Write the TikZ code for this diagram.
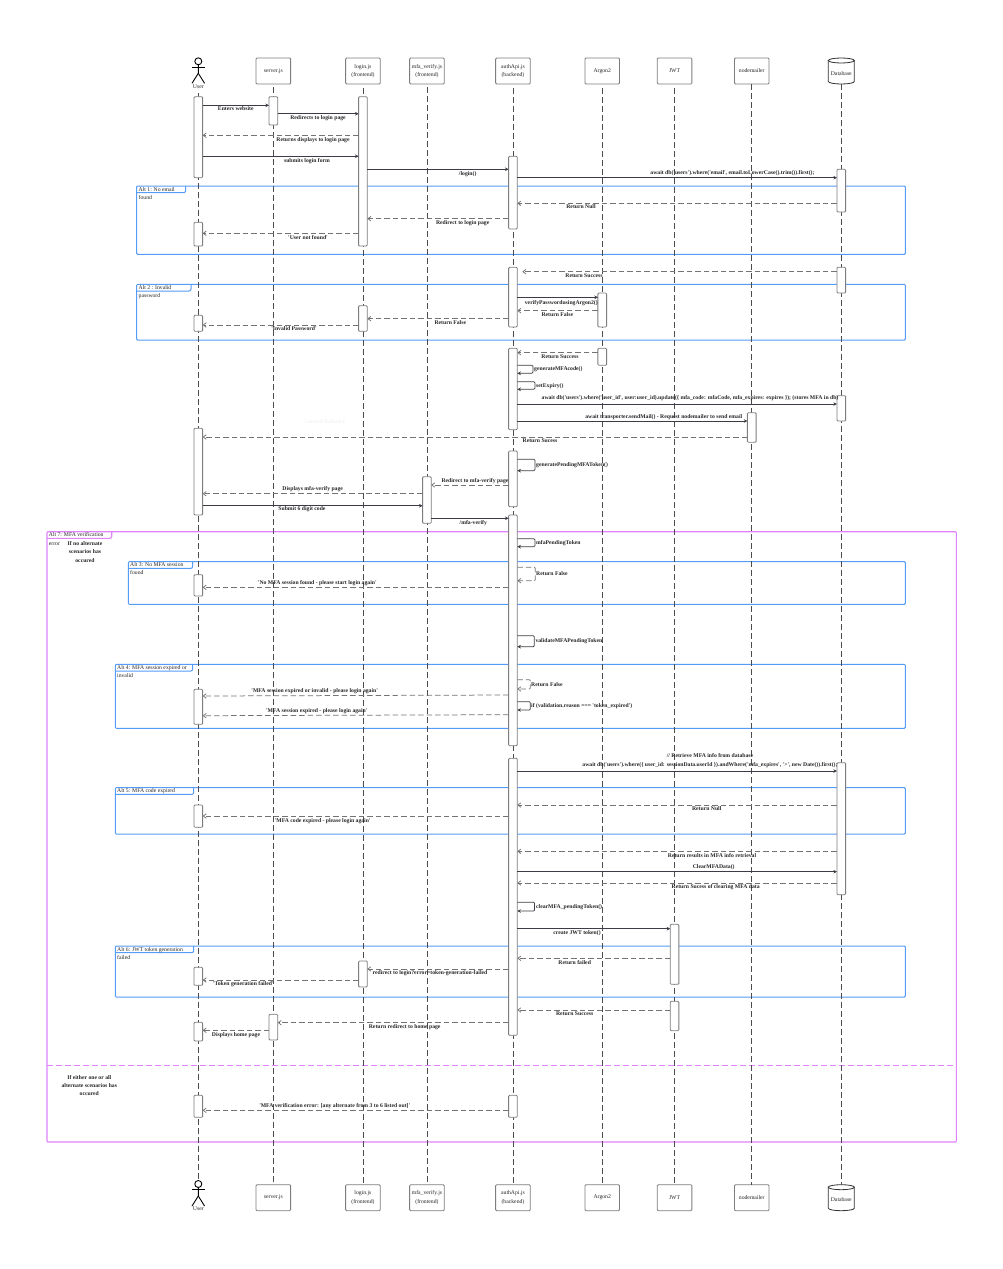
\documentclass[tikz,border=0pt]{standalone}
\usepackage{fontspec}
\setmainfont{Liberation Serif}[Ligatures=TeXOff]
\usepackage{tikz}
\usetikzlibrary{positioning,arrows.meta}

\definecolor{altblue}{RGB}{85,155,248}
\definecolor{altpink}{RGB}{224,130,252}
\definecolor{boxgrey}{RGB}{125,125,125}
\definecolor{msggrey}{RGB}{60,60,68}

\begin{document}
\begin{tikzpicture}[x=1pt,y=-1pt,
  head/.style={rectangle, draw=boxgrey, fill=white, line width=0.85pt, rounded corners=1pt, minimum width=34.6pt, minimum height=26pt, inner sep=0pt, outer sep=0pt, align=center, text=black!85, font=\fontsize{5.7}{8.3}\selectfont},
  dbbase/.style={rectangle, minimum width=26pt, minimum height=26pt, inner sep=0pt, outer sep=0pt},
  dbline/.style={draw=black!80, fill=white, line width=0.8pt},
  manhead/.style={circle, draw=black, line width=0.9pt, minimum size=7pt, inner sep=0pt, outer sep=0pt},
  man/.style={draw=black, line width=0.9pt},
  life/.style={draw=black!70, line width=0.75pt, dash pattern=on 6pt off 3pt},
  bar/.style={rectangle, anchor=north, draw=boxgrey, fill=white, line width=0.85pt, rounded corners=1pt, minimum width=8.7pt, inner sep=0pt, outer sep=0pt},
  call/.style={draw=msggrey, line width=0.75pt, -{Stealth[length=3.6pt,width=3.6pt]}},
  back/.style={draw=black!55, line width=0.75pt, dash pattern=on 5.5pt off 3pt, -{Straight Barb[length=3pt,width=4.5pt]}},
  block/.style={text=black!85, inner sep=0pt, align=center, font=\fontsize{5.7}{8.3}\bfseries\selectfont},
  msg/.style={text=black!85, inner sep=0pt, text height=5.5pt, text depth=1.2pt, font=\fontsize{5.7}{8.3}\bfseries\selectfont},
  selfmsg/.style={msg, anchor=west},
  alttext/.style={anchor=west, inner sep=0pt, text=black!85, text height=5.5pt, text depth=1.2pt, font=\fontsize{5.7}{8.3}\selectfont},
  altline/.style={draw=altblue, line width=1pt},
  altbox/.style={rectangle, anchor=north west, altline, rounded corners=1pt, inner sep=0pt, outer sep=0pt},
  bigline/.style={draw=altpink, line width=1.1pt},
  bigbox/.style={rectangle, anchor=north west, bigline, rounded corners=1pt, inner sep=0pt, outer sep=0pt},
]
\useasboundingbox (0,0) rectangle (1003,1269);

%Frames
\node[altbox, minimum width=768.6pt, minimum height=68.3pt] (alt1) at (136.7,186) {};
\node[altbox, minimum width=768.6pt, minimum height=55.7pt] (alt2) at (136.7,284.3) {};
\node[altbox, minimum width=777pt, minimum height=42.6pt] (alt3) at (128.3,561.7) {};
\node[altbox, minimum width=790pt, minimum height=64pt] (alt4) at (115.3,664.3) {};
\node[altbox, minimum width=790pt, minimum height=46.3pt] (alt5) at (115.3,787.7) {};
\node[altbox, minimum width=790pt, minimum height=51pt] (alt6) at (115.3,946) {};
\node[bigbox, minimum width=909.3pt, minimum height=610.3pt] (alt7) at (47,531.7) {};
\coordinate (splitL) at (47,1065.7);
\coordinate (splitR) at (956.3,1065.7);
\draw[bigline, dash pattern=on 6pt off 3pt] (splitL) -- (splitR);

\draw[altline, rounded corners=2pt] (alt1.north west) ++(49,0) -- ++(0,6.7) -- ++(-49,0);
\draw[altline, rounded corners=2pt] (alt2.north west) ++(54.3,0) -- ++(0,6.7) -- ++(-54.3,0);
\draw[altline, rounded corners=2pt] (alt3.north west) ++(64.4,0) -- ++(0,6.7) -- ++(-64.4,0);
\draw[altline, rounded corners=2pt] (alt4.north west) ++(77.4,0) -- ++(0,6.7) -- ++(-77.4,0);
\draw[altline, rounded corners=2pt] (alt5.north west) ++(78.4,0) -- ++(0,6.7) -- ++(-78.4,0);
\draw[altline, rounded corners=2pt] (alt6.north west) ++(78.4,0) -- ++(0,6.7) -- ++(-78.4,0);
\draw[bigline, rounded corners=2pt] (alt7.north west) ++(64.7,0) -- ++(0,6.7) -- ++(-64.7,0);

\node[alttext] (alt1a) at (138.5,189) {Alt 1: No email};
\node[alttext] (alt1b) at (138.5,197) {found};
\node[alttext] (alt2a) at (138.5,287.3) {Alt 2 : Invalid};
\node[alttext] (alt2b) at (138.5,295.3) {password};
\node[alttext] (alt3a) at (130,564.3) {Alt 3: No MFA session};
\node[alttext] (alt3b) at (130,572.7) {found};
\node[alttext] (alt4a) at (117,667) {Alt 4: MFA session expired or};
\node[alttext] (alt4b) at (117,675.3) {invalid};
\node[alttext] (alt5a) at (117,790.7) {Alt 5: MFA code expired};
\node[alttext] (alt6a) at (117,949) {Alt 6: JWT token generation};
\node[alttext] (alt6b) at (117,957) {failed};
\node[alttext] (alt7a) at (48.7,534.7) {Alt 7: MFA verification};
\node[alttext] (alt7b) at (48.7,543) {error};
\node[block] (noalt) at (85,551.8) {If no alternate\\scenarios has\\occured};
\node[block] (anyalt) at (89.3,1085.5) {If either one or all\\alternate scenarios has\\occured};
\node[text=black!7, inner sep=0pt, font=\fontsize{5.7}{8.3}\selectfont] (faint) at (325,421.7) {Coronal Radiance};

%Heads
\node[manhead] (user) at (198.3,61.3) {};
\node[head] (server) at (273.35,71) {server.js};
\node[head] (login) [right=55pt of server] {login.js\\(frontend)};
\node[head] (mfa) [right=29.4pt of login] {mfa\_verify.js\\(frontend)};
\node[head] (auth) [right=51.4pt of mfa] {authApi.js\\(backend)};
\node[head] (argon) [right=54.7pt of auth] {Argon2};
\node[head] (jwt) [right=37.7pt of argon] {JWT};
\node[head] (mail) [right=42.6pt of jwt] {nodemailer};
\node[dbbase] (db) at (841.3,71) {};
\node[manhead] (userLow) at (198.3,1184) {};
\node[head] (serverLow) [below=1100.7pt of server] {server.js};
\node[head] (loginLow) [below=1100.7pt of login] {login.js\\(frontend)};
\node[head] (mfaLow) [below=1100.7pt of mfa] {mfa\_verify.js\\(frontend)};
\node[head] (authLow) [below=1100.7pt of auth] {authApi.js\\(backend)};
\node[head] (argonLow) [below=1100.7pt of argon] {Argon2};
\node[head] (jwtLow) [below=1100.7pt of jwt] {JWT};
\node[head] (mailLow) [below=1100.7pt of mail] {nodemailer};
\node[dbbase] (dbLow) [below=1100.7pt of db] {};

\draw[man] (user.south) -- ++(0,8.5) -- ++(-6.3,10);
\draw[man] (user.south) ++(0,8.5) -- ++(6.3,10);
\draw[man] (user.south) ++(-6.3,2.3) -- ++(12.6,0);
\draw[man] (userLow.south) -- ++(0,8.5) -- ++(-6.3,10);
\draw[man] (userLow.south) ++(0,8.5) -- ++(6.3,10);
\draw[man] (userLow.south) ++(-6.3,2.3) -- ++(12.6,0);
\node[alttext, anchor=center] (userName) at (198.3,86.6) {User};
\node[alttext, anchor=center] (userNameLow) at (198.3,1208.7) {User};

%Lifelines
\draw[life, shorten <=3pt] (userName.south) -- (userLow.north);
\draw[life, shorten <=3pt, shorten >=3pt] (server.south) -- (serverLow.north);
\draw[life, shorten <=4pt] (login.south) -- (loginLow.north);
\draw[life, shorten <=3pt] (mfa.south) -- (mfaLow.north);
\draw[life, shorten <=4pt] (auth.south) -- (authLow.north);
\draw[life, shorten <=4pt] (argon.south) -- (argonLow.north);
\draw[life, shorten <=4pt] (jwt.south) -- (jwtLow.north);
\draw[life] (mail.south) -- (mailLow.north);
\draw[life] (db.south) -- (dbLow.north);

%Database drums
\draw[dbline] (db.north west) ++(0,2.5) -- ++(0,21) arc[start angle=180, end angle=360, x radius=13pt, y radius=2.5pt] -- ++(0,-21) -- cycle;
\draw[dbline] (db.north) ++(0,2.5) ellipse [x radius=13pt, y radius=2.5pt];
\node[alttext, anchor=center] (dbName) at ([yshift=-2pt]db.center) {Database};
\draw[dbline] (dbLow.north west) ++(0,2.5) -- ++(0,21) arc[start angle=180, end angle=360, x radius=13pt, y radius=2.5pt] -- ++(0,-21) -- cycle;
\draw[dbline] (dbLow.north) ++(0,2.5) ellipse [x radius=13pt, y radius=2.5pt];
\node[alttext, anchor=center] (dbNameLow) at ([yshift=-2pt]dbLow.center) {Database};

%Bars
\node[bar, minimum height=81pt] (userBar1) at (user |- 0,96.7) {};
\node[bar, minimum height=23.7pt] (userBar2) at (user |- 0,222.3) {};
\node[bar, minimum height=16pt] (userBar3) at (user |- 0,315.3) {};
\node[bar, minimum height=86.7pt] (userBar4) at (user |- 0,428.3) {};
\node[bar, minimum height=21.3pt] (userBar5) at (user |- 0,574.7) {};
\node[bar, minimum height=35pt] (userBar6) at (user |- 0,689.3) {};
\node[bar, minimum height=22.3pt] (userBar7) at (user |- 0,805) {};
\node[bar, minimum height=18pt] (userBar8) at (user |- 0,967.3) {};
\node[bar, minimum height=18.7pt] (userBar9) at (user |- 0,1022.3) {};
\node[bar, minimum height=22pt] (userBar10) at (user |- 0,1095.3) {};
\node[bar, minimum height=28.3pt] (serverBar1) at (server |- 0,96.7) {};
\node[bar, minimum height=25.7pt] (serverBar2) at (server |- 0,1014.3) {};
\node[bar, minimum height=149.3pt] (loginBar1) at (login |- 0,96.7) {};
\node[bar, minimum height=25.6pt] (loginBar2) at (login |- 0,305.7) {};
\node[bar, minimum height=26pt] (loginBar3) at (login |- 0,961) {};
\node[bar, minimum height=46.6pt] (mfaBar1) at (mfa |- 0,476.7) {};
\node[bar, minimum height=72.7pt] (authBar1) at (auth |- 0,156.3) {};
\node[bar, minimum height=59.7pt] (authBar2) at (auth |- 0,267.3) {};
\node[bar, minimum height=81.4pt] (authBar3) at (auth |- 0,348.3) {};
\node[bar, minimum height=55.7pt] (authBar4) at (auth |- 0,451) {};
\node[bar, minimum height=230.7pt] (authBar5) at (auth |- 0,515) {};
\node[bar, minimum height=277pt] (authBar6) at (auth |- 0,758.3) {};
\node[bar, minimum height=22pt] (authBar7) at (auth |- 0,1095.3) {};
\node[bar, minimum height=34pt] (argonBar1) at (argon |- 0,293) {};
\node[bar, minimum height=17pt] (argonBar2) at (argon |- 0,348.3) {};
\node[bar, minimum height=60pt] (jwtBar1) at (jwt |- 0,924.3) {};
\node[bar, minimum height=29.4pt] (jwtBar2) at (jwt |- 0,1001.3) {};
\node[bar, minimum height=29.6pt] (mailBar1) at (mail |- 0,412.7) {};
\node[bar, minimum height=42.7pt] (dbBar1) at (db |- 0,169.3) {};
\node[bar, minimum height=25.7pt] (dbBar2) at (db |- 0,267.3) {};
\node[bar, minimum height=25.3pt] (dbBar3) at (db |- 0,395.7) {};
\node[bar, minimum height=132pt] (dbBar4) at (db |- 0,762.7) {};

%Lines
\draw[call] (userBar1.east |- 0,105.3) -- (serverBar1.west |- 0,105.3);
\draw[call] (serverBar1.east |- 0,113.7) -- (loginBar1.west |- 0,113.7);
\draw[back] (loginBar1.west |- 0,135.3) -- (userBar1.east |- 0,135.3);
\draw[call] (userBar1.east |- 0,156.3) -- (loginBar1.west |- 0,156.3);
\draw[call] (loginBar1.east |- 0,169.3) -- (authBar1.west |- 0,169.3);
\draw[call] (authBar1.east |- 0,177.7) -- (dbBar1.west |- 0,177.7);
\draw[back] (dbBar1.west |- 0,203.3) -- (authBar1.east |- 0,203.3);
\draw[back] (authBar1.west |- 0,218.7) -- (loginBar1.east |- 0,218.7);
\draw[back] (loginBar1.west |- 0,233.3) -- (userBar2.east |- 0,233.3);
\draw[back] (dbBar2.west |- 0,271.7) -- ([xshift=5pt]authBar2.east |- 0,271.7);
\draw[call] (authBar2.east |- 0,297.3) -- (argonBar1.west |- 0,297.3);
\draw[back] (argonBar1.west |- 0,310.7) -- (authBar2.east |- 0,310.7);
\draw[back] (authBar2.west |- 0,318.7) -- (loginBar2.east |- 0,318.7);
\draw[back] (loginBar2.west |- 0,325) -- (userBar3.east |- 0,325);
\draw[back] (argonBar2.west |- 0,352.7) -- (authBar3.east |- 0,352.7);
\draw[call, rounded corners=1pt] (authBar3.east |- 0,365.3) -- ++(15.6,0) -- ++(0,8) -- (authBar3.east |- 0,373.3);
\draw[call, rounded corners=1pt] (authBar3.east |- 0,381.7) -- ++(17.6,0) -- ++(0,7.6) -- (authBar3.east |- 0,389.3);
\draw[call] (authBar3.east |- 0,404) -- (dbBar3.west |- 0,404);
\draw[call] (authBar3.east |- 0,421) -- (mailBar1.west |- 0,421);
\draw[back] (mailBar1.west |- 0,437) -- (userBar4.east |- 0,437);
\draw[call, rounded corners=1pt] (authBar4.east |- 0,459.3) -- ++(17.6,0) -- ++(0,11.4) -- (authBar4.east |- 0,470.7);
\draw[back] (authBar4.west |- 0,485) -- (mfaBar1.east |- 0,485);
\draw[back] (mfaBar1.west |- 0,493.7) -- (userBar4.east |- 0,493.7);
\draw[call] (userBar4.east |- 0,505.7) -- (mfaBar1.west |- 0,505.7);
\draw[call] (mfaBar1.east |- 0,518.3) -- (authBar5.west |- 0,518.3);
\draw[call, rounded corners=1pt] (authBar5.east |- 0,538.7) -- ++(17.6,0) -- ++(0,8) -- (authBar5.east |- 0,546.7);
\draw[back, rounded corners=1pt] (authBar5.east |- 0,567.3) -- ++(18,0) -- ++(0,13.4) -- (authBar5.east |- 0,580.7);
\draw[back] (authBar5.west |- 0,587.3) -- (userBar5.east |- 0,587.3);
\draw[call, rounded corners=1pt] (authBar5.east |- 0,635.7) -- ++(17,0) -- ++(0,11) -- (authBar5.east |- 0,646.7);
\draw[back, rounded corners=1pt] (authBar5.east |- 0,679.7) -- ++(13,0) -- ++(0,9.3) -- (authBar5.east |- 0,689);
\draw[back] (authBar5.west |- 0,695) -- (userBar6.east |- 0,696);
\draw[call, rounded corners=1pt] (authBar5.east |- 0,701.7) -- ++(13,0) -- ++(0,8.3) -- (authBar5.east |- 0,710);
\draw[back] (authBar5.west |- 0,714.7) -- (userBar6.east |- 0,715.7);
\draw[call] (authBar6.east |- 0,771) -- (dbBar4.west |- 0,771);
\draw[back] (dbBar4.west |- 0,805) -- (authBar6.east |- 0,805);
\draw[back] (authBar6.west |- 0,816) -- (userBar7.east |- 0,816);
\draw[back] (dbBar4.west |- 0,851.3) -- (authBar6.east |- 0,851.3);
\draw[call] (authBar6.east |- 0,871.7) -- (dbBar4.west |- 0,871.7);
\draw[back] (dbBar4.west |- 0,883) -- (authBar6.east |- 0,883);
\draw[call, rounded corners=1pt] (authBar6.east |- 0,902.3) -- ++(17.3,0) -- ++(0,8.7) -- (authBar6.east |- 0,911);
\draw[call] (authBar6.east |- 0,928.7) -- (jwtBar1.west |- 0,928.7);
\draw[back] (jwtBar1.west |- 0,958.3) -- (authBar6.east |- 0,958.3);
\draw[back] (authBar6.west |- 0,969) -- (loginBar3.east |- 0,969);
\draw[back] (loginBar3.west |- 0,980) -- (userBar8.east |- 0,980);
\draw[back] (jwtBar2.west |- 0,1010) -- (authBar6.east |- 0,1010);
\draw[back] (authBar6.west |- 0,1022.7) -- (serverBar2.east |- 0,1022.7);
\draw[back] (serverBar2.west |- 0,1030.3) -- (userBar9.east |- 0,1030.3);
\draw[back] (authBar7.west |- 0,1110.3) -- (userBar10.east |- 0,1110.3);

%Labels
\node[msg] (enters) at (235.8,108.7) {Enters website};
\node[msg] (redirects) at (318,117.3) {Redirects to login page};
\node[msg] (returns) at (313,139) {Returns displays to login page};
\node[msg] (submits) at (307,160) {submits login form};
\node[msg] (loginCall) at (467.7,173) {/login()};
\node[msg] (awaitFirst) at (732.5,172.7) {await db('users').where('email', email.toLowerCase().trim()).first();};
\node[msg] (null1) at (581,206.7) {Return Null};
\node[msg] (toLogin) at (462.7,222.3) {Redirect to login page};
\node[msg] (notFound) at (308,237) {'User not found'};
\node[msg] (success1) at (584,275) {Return Success};
\node[msg] (verify) at (561.3,302.3) {verifyPasswordusingArgon2()};
\node[msg] (false1) at (557.3,314) {Return False};
\node[msg] (false2) at (450.3,322.3) {Return False};
\node[msg] (invalid) at (294,328.7) {'Invalid Password'};
\node[msg] (success2) at (560,356.3) {Return Success};
\node[selfmsg] (genCode) at (534,368.7) {generateMFAcode()};
\node[selfmsg] (setExp) at (536,385.3) {setExpiry()};
\node[msg] (awaitStore) at (690,397) {await db('users').where('user\_id', user:user\_id).update(\{ mfa\_code: mfaCode, mfa\_expires: expires \}); (stores MFA in db)};
\node[msg] (awaitMail) at (663.8,416) {await transporter.sendMail() - Request nodemailer to send email};
\node[msg] (sucess1) at (540,440) {Return Sucess};
\node[selfmsg] (genToken) at (536,464.3) {generatePendingMFAToken()};
\node[msg] (toVerify) at (475,480) {Redirect to mfa-verify page};
\node[msg] (shows) at (312.7,488.7) {Displays mfa-verify page};
\node[msg] (sixDigit) at (302,508.7) {Submit 6 digit code};
\node[msg] (verifyCall) at (473.3,522) {/mfa-verify};
\node[selfmsg] (pending) at (536,542) {mfaPendingToken};
\node[selfmsg] (false3) at (536,573.7) {Return False};
\node[msg] (noSession) at (317.3,582.7) {'No MFA session found - please start login again'};
\node[selfmsg] (validate) at (535.3,640.7) {validateMFAPendingToken};
\node[selfmsg] (false4) at (531,684) {Return False};
\node[msg] (expired1) at (314.7,690.3) {'MFA session expired or invalid - please login again'};
\node[selfmsg] (reason) at (531,705.7) {if (validation.reason === 'token\_expired')};
\node[msg] (expired2) at (316.7,710.3) {'MFA session expired - please login again'};
\node[block] (retrieve) at (710,760.7) {// Retrieve MFA info from database\\await db('users').where(\{ user\_id: sessionData.userId \}).andWhere('mfa\_expires', '>', new Date()).first();};
\node[msg] (null2) at (706.7,808.7) {Return Null};
\node[msg] (codeExp) at (322.7,820) {'MFA code expired - please login again'};
\node[msg] (results) at (712,855) {Return results in MFA info retrieval};
\node[msg] (clearData) at (713.7,866.7) {ClearMFAData()};
\node[msg] (cleared) at (715.7,886.7) {Return Sucess of clearing MFA data};
\node[selfmsg] (clearToken) at (536,906.3) {clearMFA\_pendingToken()};
\node[msg] (createJwt) at (577,932.7) {create JWT token()};
\node[msg] (failed) at (574.7,962.3) {Return failed};
\node[msg] (loginErr) at (430,972.3) {redirect to login?error=token-generation-failed};
\node[msg] (genFail) at (243.3,983.7) {'Token generation failed'};
\node[msg] (success3) at (574.7,1013.7) {Return Success};
\node[msg] (homeBack) at (404.7,1026.3) {Return redirect to home page};
\node[msg] (homeShow) at (236,1034) {Displays home page};
\node[msg] (anyErr) at (334.7,1105.3) {'MFA verification error: [any alternate from 3 to 6 listed out]'};

\end{tikzpicture}
\end{document}
